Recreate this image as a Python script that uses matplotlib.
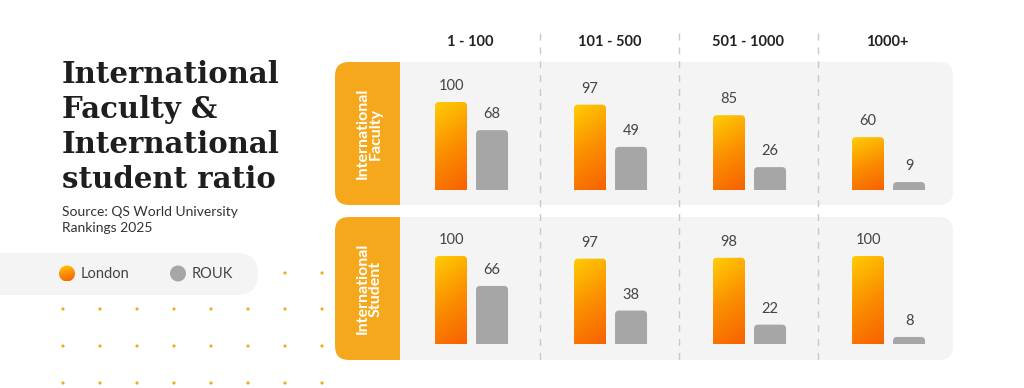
import numpy as np
import matplotlib
matplotlib.use("Agg")
import matplotlib.pyplot as plt
from matplotlib.patches import FancyBboxPatch, Rectangle, Circle, PathPatch
from matplotlib.path import Path
from matplotlib.colors import LinearSegmentedColormap

# data
bands = ["1 - 100", "101 - 500", "501 - 1000", "1000+"]
rows = ["International\nFaculty", "International\nStudent"]
london_faculty = [100, 97, 85, 60]
rouk_faculty = [68, 49, 26, 9]
london_student = [100, 97, 98, 100]
rouk_student = [66, 38, 22, 8]

ORANGE = "#F6A81C"
PANEL = "#F4F4F4"
GREY = "#A6A6A6"
TEXT = "#444444"
grad = LinearSegmentedColormap.from_list("grad", ["#F76200", "#FB9000", "#FFCC05"])

W, H = 1024, 388
fig = plt.figure(figsize=(W / 100, H / 100), dpi=100)

# background axes in pixel coordinates
bg = fig.add_axes([0, 0, 1, 1])
bg.set_xlim(0, W)
bg.set_ylim(H, 0)
bg.axis("off")


def rounded_top(x0, w, h, rx, ry):
    x1 = x0 + w
    verts = [(x0, 0), (x0, h - ry), (x0, h), (x0 + rx, h),
             (x1 - rx, h), (x1, h), (x1, h - ry), (x1, 0), (x0, 0)]
    codes = [Path.MOVETO, Path.LINETO, Path.CURVE3, Path.CURVE3,
             Path.LINETO, Path.CURVE3, Path.CURVE3, Path.LINETO, Path.CLOSEPOLY]
    return Path(verts, codes)


def panel(top, bottom, label):
    bg.add_patch(FancyBboxPatch((335, top), 953 - 335, bottom - top,
                                boxstyle="round,pad=0,rounding_size=14",
                                fc=PANEL, ec="none", zorder=1))
    bg.add_patch(FancyBboxPatch((335, top), 80, bottom - top,
                                boxstyle="round,pad=0,rounding_size=14",
                                fc=ORANGE, ec="none", zorder=2))
    bg.add_patch(Rectangle((400, top), 20, bottom - top, fc=PANEL, ec="none", zorder=3))
    bg.text(369, (top + bottom) / 2, label, rotation=90, ha="center", va="center",
            color="white", fontsize=11.5, fontweight="bold", family="Lato",
            linespacing=0.95, zorder=4)


panel(62, 205, rows[0])
panel(217, 360, rows[1])

# column dividers and headers
for xd in [540, 679, 818]:
    bg.plot([xd, xd], [33, 360], color="#C9C9C9", lw=1, ls=(0, (5, 5)), zorder=5)
for i, b in enumerate(bands):
    bg.text(470.5 + 139 * i, 42, b, ha="center", va="center", fontsize=10.5,
            fontweight="bold", family="Lato", color="#222222")

# title block
title_lines = ["International", "Faculty &", "International", "student ratio"]
for k, line in enumerate(title_lines):
    bg.text(62, 83 + 35 * k, line, ha="left", va="baseline", fontsize=21,
            fontweight="bold", family="DejaVu Serif", color="#1E1E1E")
bg.text(62, 212, "Source: QS World University", ha="left", va="center",
        fontsize=10, family="Lato", color="#333333")
bg.text(62, 228, "Rankings 2025", ha="left", va="center",
        fontsize=10, family="Lato", color="#333333")

# decorative dots
for yy in [273, 309, 346, 383]:
    for xx in np.arange(63, 330, 37):
        bg.add_patch(Circle((xx, yy), 1.6, fc="#F7A823", ec="none", zorder=1))

# legend pill
bg.add_patch(FancyBboxPatch((-40, 253), 298, 42, boxstyle="round,pad=0,rounding_size=21",
                            fc=PANEL, ec="none", zorder=2))
gx = np.linspace(0, 1, 50)
gimg = 0.8 * (1 - gx[:, None]) + 0.2 * (1 - gx[None, :])
lc = Circle((67, 273.5), 8, transform=bg.transData)
im = bg.imshow(gimg, cmap=grad, extent=(59, 75, 281.5, 265.5), vmin=0, vmax=1,
               zorder=3, interpolation="bilinear")
im.set_clip_path(lc)
bg.add_patch(Circle((178, 273.5), 8, fc=GREY, ec="none", zorder=3))
bg.text(81, 273.5, "London", ha="left", va="center", fontsize=10.5, family="Lato", color=TEXT, zorder=4)
bg.text(192, 273.5, "ROUK", ha="left", va="center", fontsize=10.5, family="Lato", color=TEXT, zorder=4)
bg.set_xlim(0, W)
bg.set_ylim(H, 0)
bg.set_aspect("auto")


def bar_axes(top, bottom, base, london, rouk):
    ax = fig.add_axes([401 / W, 1 - bottom / H, 556 / W, (bottom - top) / H])
    ppu = 0.88
    ax.axis("off")
    ax.patch.set_visible(False)
    bw = 32 / 139
    rx, ry = 4 / 139, 4 / ppu
    x = np.arange(len(london))
    for i in x:
        xo = i - 0.14 - bw / 2
        patch = PathPatch(rounded_top(xo, bw, london[i], rx, ry), fc="none", ec="none")
        ax.add_patch(patch)
        yy = np.linspace(0, 1, 60)[:, None]
        xx = np.linspace(0, 1, 20)[None, :]
        img = 0.8 * yy + 0.2 * (1 - xx)
        im = ax.imshow(img, cmap=grad, extent=(xo, xo + bw, 0, london[i]), origin="lower",
                       aspect="auto", vmin=0, vmax=1, interpolation="bilinear", zorder=2)
        im.set_clip_path(patch)
        ax.text(i - 0.14, london[i] + 10, str(london[i]), ha="center", va="bottom",
                fontsize=10.5, family="Lato", color=TEXT)
        xg = i + 0.155 - bw / 2
        ax.add_patch(PathPatch(rounded_top(xg, bw, rouk[i], rx, ry), fc=GREY, ec="none", zorder=2))
        ax.text(i + 0.155, rouk[i] + 10, str(rouk[i]), ha="center", va="bottom",
                fontsize=10.5, family="Lato", color=TEXT)
    ax.set_xlim(-0.5, 3.5)
    ax.set_ylim(-(bottom - base) / ppu, (base - top) / ppu)
    return ax


bar_axes(62, 205, 190, london_faculty, rouk_faculty)
bar_axes(217, 360, 344, london_student, rouk_student)

fig.savefig("out.png", dpi=100)
